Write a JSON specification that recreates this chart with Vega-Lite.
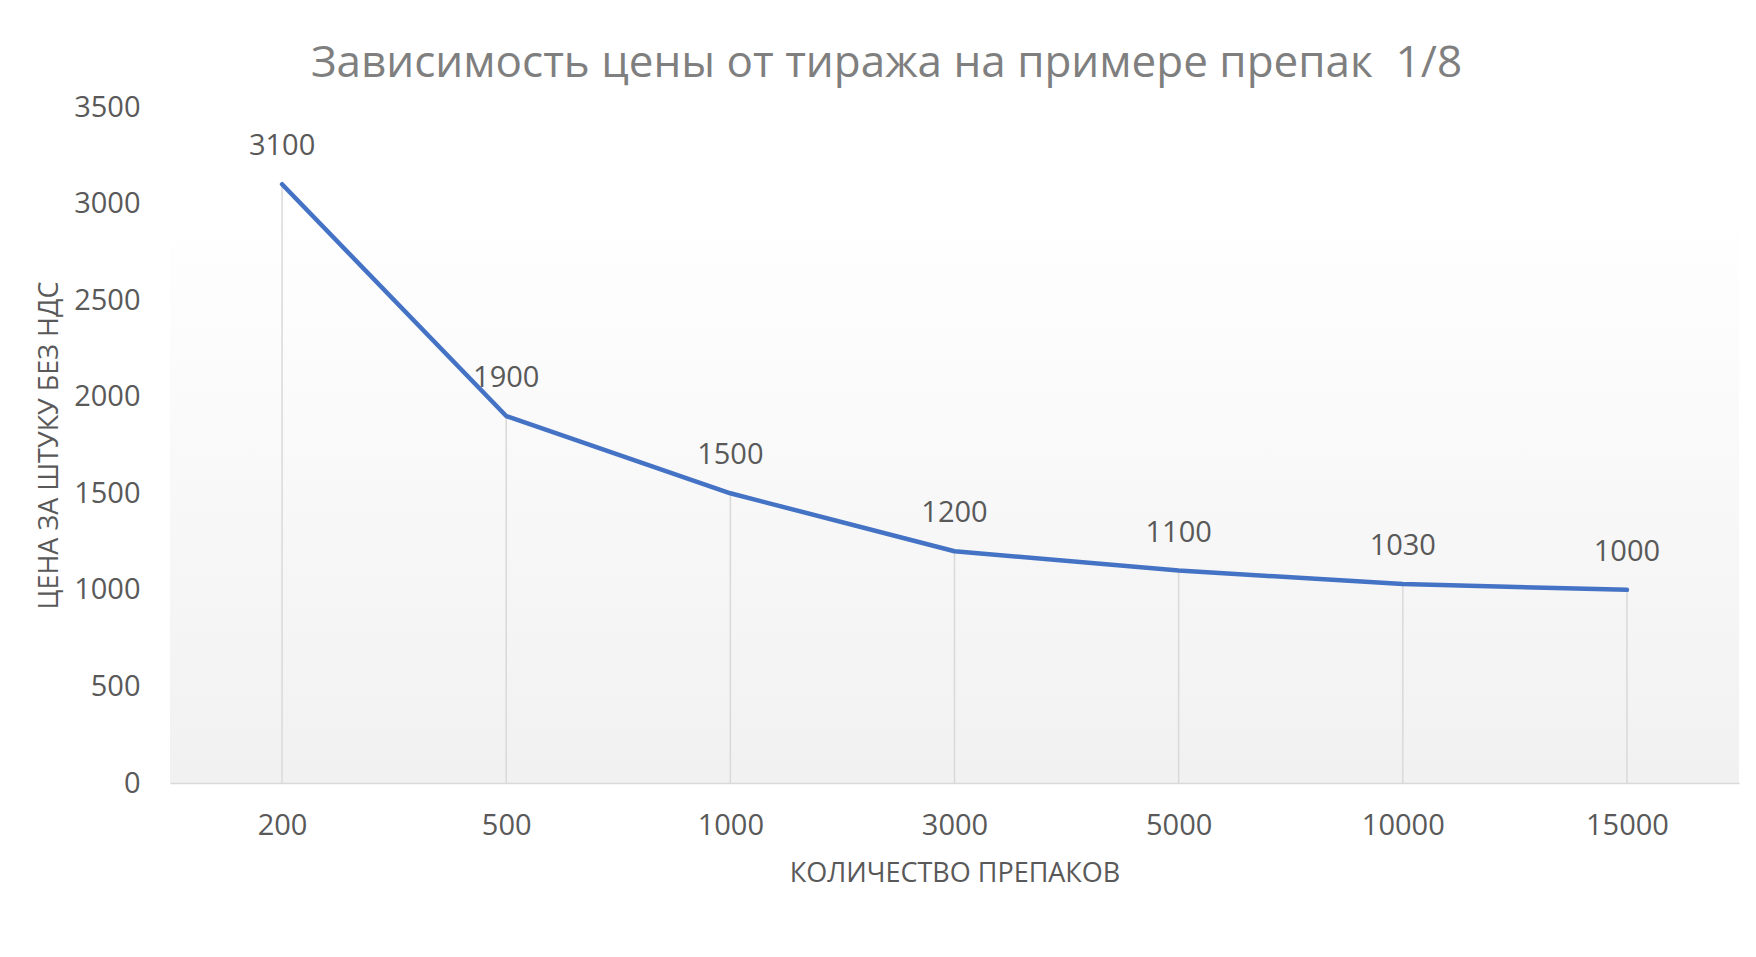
{
  "$schema": "https://vega.github.io/schema/vega-lite/v6.json",
  "autosize": "none",
  "width": 1569,
  "height": 676,
  "padding": {"left": 170, "top": 107, "right": 17, "bottom": 174},
  "background": "#ffffff",
  "config": {
    "view": {
      "stroke": null,
      "fill": {
        "gradient": "linear",
        "x1": 0, "y1": 0, "x2": 0, "y2": 1,
        "stops": [
          {"offset": 0, "color": "#ffffff"},
          {"offset": 0.15, "color": "#ffffff"},
          {"offset": 1, "color": "#f1f1f1"}
        ]
      }
    },
    "font": "Open Sans"
  },
  "title": {
    "text": "Зависимость цены от тиража на примере препак \u00a01/8",
    "font": "Open Sans",
    "fontSize": 44,
    "fontWeight": "normal",
    "color": "#7f7f7f",
    "dx": -68,
    "dy": 23,
    "offset": 30
  },
  "data": {
    "values": [
      {"qty": "200", "price": 3100},
      {"qty": "500", "price": 1900},
      {"qty": "1000", "price": 1500},
      {"qty": "3000", "price": 1200},
      {"qty": "5000", "price": 1100},
      {"qty": "10000", "price": 1030},
      {"qty": "15000", "price": 1000}
    ]
  },
  "encoding": {
    "x": {
      "field": "qty",
      "type": "ordinal",
      "sort": null,
      "scale": {"type": "point", "padding": 0.5},
      "axis": {
        "title": "КОЛИЧЕСТВО ПРЕПАКОВ",
        "titleFont": "Open Sans",
        "titleFontSize": 27,
        "titleFontWeight": "normal",
        "titleColor": "#595959",
        "titlePadding": 20,
        "labelFont": "Open Sans",
        "labelFontSize": 29,
        "labelColor": "#595959",
        "labelAngle": 0,
        "labelPadding": 28,
        "ticks": false,
        "grid": false,
        "domainColor": "#d9d9d9",
        "domainWidth": 1.5
      }
    },
    "y": {
      "field": "price",
      "type": "quantitative",
      "scale": {"domain": [0, 3500], "nice": false},
      "axis": {
        "values": [0, 500, 1000, 1500, 2000, 2500, 3000, 3500],
        "format": "d",
        "title": "ЦЕНА ЗА ШТУКУ БЕЗ НДС",
        "titleFont": "Open Sans",
        "titleFontSize": 27,
        "titleFontWeight": "normal",
        "titleColor": "#595959",
        "titlePadding": 10,
        "labelFont": "Open Sans",
        "labelFontSize": 29,
        "labelColor": "#595959",
        "labelPadding": 30,
        "ticks": false,
        "domain": false,
        "grid": false
      }
    }
  },
  "layer": [
    {
      "mark": {"type": "rule", "color": "#d9d9d9", "strokeWidth": 1.5},
      "encoding": {"y2": {"datum": 0}}
    },
    {
      "mark": {"type": "line", "color": "#4472c4", "strokeWidth": 4.5, "strokeCap": "round", "strokeJoin": "round"}
    },
    {
      "mark": {"type": "text", "font": "Open Sans", "fontSize": 29, "color": "#595959", "baseline": "middle", "dy": -38},
      "encoding": {"text": {"field": "price", "type": "quantitative", "format": "d"}}
    }
  ]
}
